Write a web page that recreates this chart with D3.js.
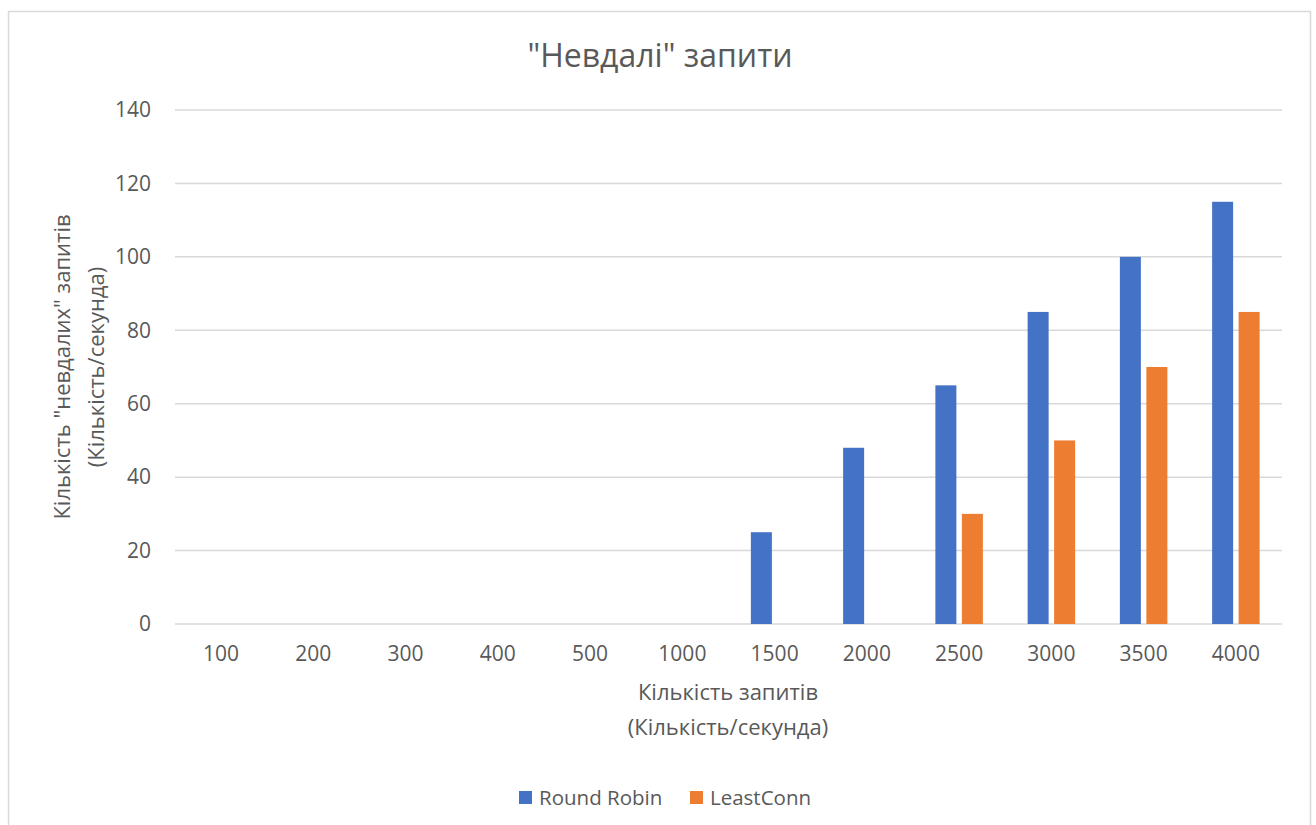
<!DOCTYPE html>
<html>
<head>
<meta charset="utf-8">
<script src="https://cdn.jsdelivr.net/npm/d3@7"></script>
<style>
  html, body { margin: 0; padding: 0; background: #ffffff; }
  svg { display: block; }
  text { font-family: "Open Sans", "Noto Sans", sans-serif; fill: #595959; }
</style>
</head>
<body>
<svg id="chart" width="1316" height="825"></svg>
<script>
// Request rates (requests per second) along the x axis
const categories = ["100", "200", "300", "400", "500", "1000", "1500", "2000", "2500", "3000", "3500", "4000"];
// Failed requests per second for each balancing strategy
const roundRobin = [0, 0, 0, 0, 0, 0, 25, 48, 65, 85, 100, 115];
const leastConn  = [0, 0, 0, 0, 0, 0, 0, 0, 30, 50, 70, 85];
const seriesNames = ["Round Robin", "LeastConn"];
const seriesColors = ["#4472c4", "#ed7d31"];
const yTicks = [0, 20, 40, 60, 80, 100, 120, 140];

const svg = d3.select("#chart");

// Chart frame
svg.append("rect")
  .attr("x", 8.5).attr("y", 11.5)
  .attr("width", 1302).attr("height", 830)
  .attr("fill", "#ffffff")
  .attr("stroke", "#d9d9d9").attr("stroke-width", 1.5);

const plot = { left: 175, right: 1282, top: 110, bottom: 624 };

const x = d3.scaleBand().domain(categories).range([plot.left, plot.right]).padding(0);
const y = d3.scaleLinear().domain([0, 140]).range([plot.bottom, plot.top]);

// Horizontal gridlines
svg.append("g")
  .selectAll("line")
  .data(yTicks)
  .join("line")
  .attr("x1", plot.left).attr("x2", plot.right)
  .attr("y1", d => y(d)).attr("y2", d => y(d))
  .attr("stroke", "#d9d9d9").attr("stroke-width", 1.5);

// Y tick labels
const yAxis = d3.axisLeft(y).tickValues(yTicks).tickSize(0).tickPadding(0);
const gy = svg.append("g").attr("transform", `translate(${plot.left - 24},0)`).call(yAxis);
gy.select(".domain").remove();
gy.selectAll("text")
  .attr("font-size", 21)
  .attr("font-family", "Open Sans, Noto Sans, sans-serif")
  .attr("fill", "#595959");

// X tick labels
const xAxis = d3.axisBottom(x).tickSize(0).tickPadding(0);
const gx = svg.append("g").attr("transform", `translate(0,${plot.bottom + 22})`).call(xAxis);
gx.select(".domain").remove();
gx.selectAll("text")
  .attr("font-size", 21)
  .attr("font-family", "Open Sans, Noto Sans, sans-serif")
  .attr("fill", "#595959");

// Grouped bars
const barW = 21, gap = 5.5;
const sub = d3.scaleOrdinal().domain(seriesNames).range([-(gap / 2) - barW, gap / 2]);
const seriesData = [roundRobin, leastConn];
seriesData.forEach((vals, si) => {
  svg.append("g")
    .selectAll("rect")
    .data(vals.map((v, i) => ({ cat: categories[i], v })).filter(d => d.v > 0))
    .join("rect")
    .attr("x", d => x(d.cat) + x.bandwidth() / 2 + sub(seriesNames[si]))
    .attr("y", d => y(d.v))
    .attr("width", barW)
    .attr("height", d => y(0) - y(d.v))
    .attr("fill", seriesColors[si]);
});

// Title
svg.append("text")
  .attr("x", 660).attr("y", 67)
  .attr("text-anchor", "middle")
  .attr("font-size", 32)
  .text("\"Невдалі\" запити");

// X axis title
const xt = svg.append("text")
  .attr("x", 728).attr("text-anchor", "middle").attr("font-size", 22);
xt.append("tspan").attr("x", 728).attr("y", 700).text("Кількість запитів");
xt.append("tspan").attr("x", 728).attr("y", 735).text("(Кількість/секунда)");

// Y axis title
const yt = svg.append("text")
  .attr("transform", "translate(0,367) rotate(-90)")
  .attr("text-anchor", "middle").attr("font-size", 22);
yt.append("tspan").attr("x", 0).attr("y", 70).text("Кількість \"невдалих\" запитів");
yt.append("tspan").attr("x", 0).attr("y", 104).text("(Кількість/секунда)");

// Legend
const legendX = [519, 690];
const lg = svg.append("g");
seriesNames.forEach((name, i) => {
  lg.append("rect")
    .attr("x", legendX[i]).attr("y", 791)
    .attr("width", 13).attr("height", 13)
    .attr("fill", seriesColors[i]);
  lg.append("text")
    .attr("x", legendX[i] + 20).attr("y", 805)
    .attr("font-size", 20.5)
    .text(name);
});
</script>
</body>
</html>
